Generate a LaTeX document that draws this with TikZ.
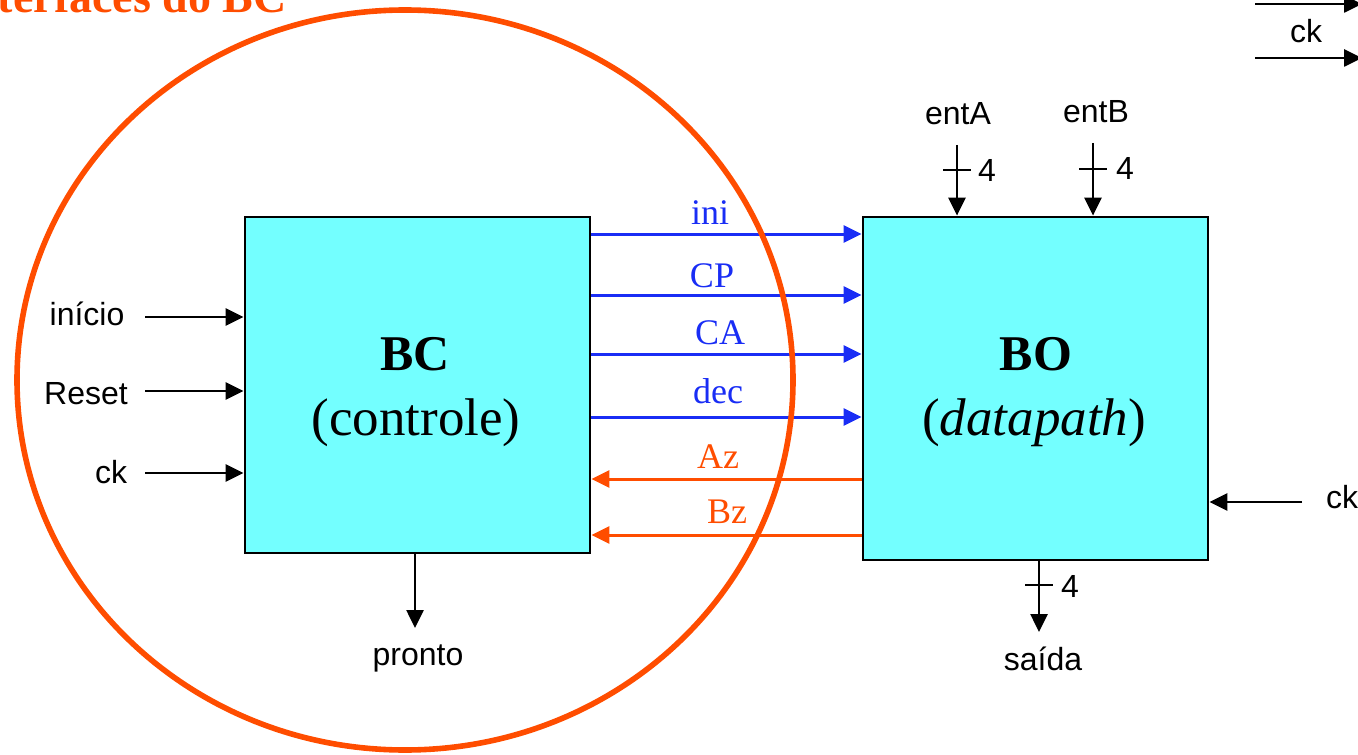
\documentclass[tikz,border=0pt]{standalone}
\usepackage{fontspec}
\setmainfont{Liberation Serif}
\newfontfamily\arialf{Liberation Sans}
\usetikzlibrary{arrows.meta}
\definecolor{ored}{RGB}{255,77,0}
\definecolor{sigblue}{RGB}{25,45,245}
\definecolor{boxcyan}{RGB}{115,255,255}
\newcommand\lblfont{\arialf\fontsize{16}{19}\selectfont}
\newcommand\sigfont{\fontsize{18}{21}\selectfont}
\newcommand\bigbfont{\bfseries\fontsize{25}{29}\selectfont}
\newcommand\bigfont{\fontsize{26.5}{30}\selectfont}
\begin{document}
\begin{tikzpicture}[x=0.5pt,y=-0.5pt,
  blockbox/.style={draw=black, line width=1.4pt, fill=boxcyan, inner sep=0pt, minimum width=172.5pt},
  barr/.style={draw=black, line width=1.3pt, -{Triangle[length=9pt,width=8.5pt]}},
  bluearr/.style={draw=sigblue, line width=1.5pt, -{Triangle[length=9pt,width=8.5pt]}},
  orarr/.style={draw=ored, line width=1.5pt, -{Triangle[length=9pt,width=8.5pt]}},
  lbl/.style={font=\lblfont, inner sep=0pt, anchor=base},
  sig/.style={font=\sigfont, inner sep=0pt, anchor=base},
  tick/.style={draw=black, line width=1.3pt}
]
\useasboundingbox (0,0) rectangle (1358,754);

% title (clipped at the page edge)
\node[font=\bfseries\fontsize{23}{27}\selectfont, text=ored, inner sep=0pt, anchor=base east] (title) at (287,13) {Interfaces do BC};

% blocks
\node[blockbox, minimum height=168pt] (BC) at (417.5,385) {};
\node[blockbox, minimum height=171.5pt] (BO) at (1035.5,388.5) {};

\node[font=\bigbfont, inner sep=0pt, anchor=base] (BCt) at (415,370) {BC};
\node[font=\bigfont, inner sep=0pt, anchor=base] (BCs) at (416,435) {(controle)};
\node[font=\bigbfont, inner sep=0pt, anchor=base] (BOt) at (1036,370) {BO};
\node[font=\bigfont, inner sep=0pt, anchor=base] (BOs) at (1034,435) {(\textit{datapath})};

% signals between blocks
\coordinate (yini) at (0,234);
\coordinate (ycp) at (0,295);
\coordinate (yca) at (0,354);
\coordinate (ydec) at (0,417);
\coordinate (yaz) at (0,479);
\coordinate (ybz) at (0,535);
\draw[bluearr] (BC.east |- yini) -- (BO.west |- yini);
\draw[bluearr] (BC.east |- ycp) -- (BO.west |- ycp);
\draw[bluearr] (BC.east |- yca) -- (BO.west |- yca);
\draw[bluearr] (BC.east |- ydec) -- (BO.west |- ydec);
\draw[orarr] (BO.west |- yaz) -- (BC.east |- yaz);
\draw[orarr] (BO.west |- ybz) -- (BC.east |- ybz);
\node[sig, text=sigblue] (lini) at (710,225) {ini};
\node[sig, text=sigblue] (lcp) at (712,287) {CP};
\node[sig, text=sigblue] (lca) at (720,344) {CA};
\node[sig, text=sigblue] (ldec) at (718,403) {dec};
\node[sig, text=ored] (laz) at (718,468) {Az};
\node[sig, text=ored] (lbz) at (727,523) {Bz};

% BC inputs
\coordinate (inI) at (145,317);
\coordinate (inR) at (145,391);
\coordinate (inC) at (145,473);
\draw[barr] (inI) -- (BC.west |- inI);
\draw[barr] (inR) -- (BC.west |- inR);
\draw[barr] (inC) -- (BC.west |- inC);
\node[lbl] (linicio) at (87,325) {início};
\node[lbl] (lreset) at (86,404) {Reset};
\node[lbl] (lck) at (111,483) {ck};

% pronto
\coordinate (prE) at (415,628);
\draw[barr] (BC.south -| prE) -- (prE);
\node[lbl] (lpronto) at (418,665) {pronto};

% entA, entB
\coordinate (eA) at (957,145);
\coordinate (eB) at (1093,143);
\draw[barr] (eA) -- (BO.north -| eA);
\draw[barr] (eB) -- (BO.north -| eB);
\coordinate (tA) at (957,170);
\coordinate (tB) at (1093,169);
\draw[tick] ([xshift=-7pt]tA) -- ([xshift=7pt]tA);
\draw[tick] ([xshift=-7pt]tB) -- ([xshift=7pt]tB);
\node[lbl] (l4a) at (987,182) {4};
\node[lbl] (l4b) at (1125,180) {4};
\node[lbl] (lentA) at (958,125) {entA};
\node[lbl] (lentB) at (1096,123) {entB};

% saida
\coordinate (sE) at (1039,632);
\draw[barr] (BO.south -| sE) -- (sE);
\coordinate (tS) at (1039,585);
\draw[tick] ([xshift=-7pt]tS) -- ([xshift=7pt]tS);
\node[lbl] (l4s) at (1070,597) {4};
\node[lbl] (lsaida) at (1043,670) {saída};

% BO clock
\coordinate (ckB) at (1302,502);
\draw[barr] (ckB) -- (BO.east |- ckB);
\node[lbl] (lckB) at (1342,508) {ck};

% top-right fragment
\coordinate (tr1a) at (1255,4);
\coordinate (tr1b) at (1362,4);
\coordinate (tr2a) at (1255,58);
\coordinate (tr2b) at (1362,58);
\draw[barr] (tr1a) -- (tr1b);
\draw[barr] (tr2a) -- (tr2b);
\node[lbl] (lcktop) at (1306,43) {ck};

% circle around BC
\draw[draw=ored, line width=2.8pt] (405,380) ellipse [x radius=194pt, y radius=185pt];
\end{tikzpicture}
\end{document}
